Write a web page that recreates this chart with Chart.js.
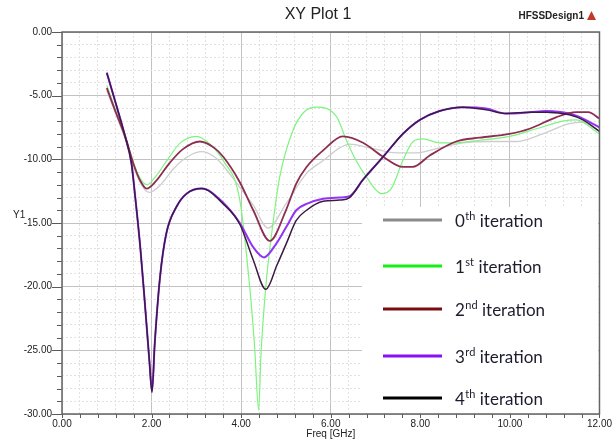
<!DOCTYPE html>
<html>
<head>
<meta charset="utf-8">
<script src="https://cdn.jsdelivr.net/npm/chart.js@4.4.1/dist/chart.umd.min.js"></script>
<style>
  html, body { margin: 0; padding: 0; background: #fff; }
  #wrap { width: 616px; height: 447px; }
</style>
</head>
<body>
<div id="wrap"><canvas id="xyPlot" width="616" height="447"></canvas></div>
<script>
// S11 (dB) vs frequency (GHz) for each design iteration
const freq0 = [1.0, 1.41, 1.7, 1.95, 2.2, 2.5, 2.8, 3.12, 3.4, 3.6, 3.97, 4.27, 4.6, 5.0, 5.46, 5.83, 6.2, 6.42, 6.87, 7.47, 7.91, 8.43, 8.95, 9.55, 10.14, 10.73, 11.33, 11.63, 12.0];
const iter0 = [-4.6, -8.4, -11.5, -12.6, -12.0, -10.7, -9.8, -9.4, -9.8, -10.5, -12.2, -13.6, -15.4, -13.5, -11.1, -10.1, -9.1, -8.8, -9.1, -9.5, -9.5, -9.1, -8.7, -8.6, -8.6, -8.0, -7.2, -7.1, -7.8];

const freq1 = [1.0, 1.41, 1.7, 1.9, 2.1, 2.4, 2.63, 3.0, 3.3, 3.6, 3.97, 4.19, 4.3, 4.39, 4.44, 4.55, 4.7, 4.86, 5.16, 5.4, 5.68, 6.13, 6.35, 6.55, 6.8, 7.13, 7.35, 7.61, 7.84, 8.06, 8.43, 8.8, 9.32, 9.99, 10.59, 11.18, 11.48, 12.0];
const iter1 = [-4.2, -8.2, -11.2, -12.0, -11.3, -9.8, -8.75, -8.2, -8.8, -10.1, -13.2, -20.0, -24.7, -29.7, -25.5, -20.0, -15.3, -11.4, -7.7, -6.3, -5.9, -6.65, -8.5, -10.0, -11.4, -12.7, -12.3, -10.1, -8.6, -8.4, -8.7, -8.7, -8.5, -8.2, -7.6, -7.0, -6.9, -8.0];

const freq2 = [1.0, 1.2, 1.41, 1.6, 1.75, 1.89, 2.1, 2.4, 2.7, 3.08, 3.4, 3.6, 3.97, 4.27, 4.64, 5.0, 5.23, 5.46, 5.83, 6.27, 6.72, 7.17, 7.61, 7.83, 8.21, 8.8, 9.32, 9.99, 10.44, 11.03, 11.48, 11.75, 12.0];
const iter2 = [-4.4, -6.3, -8.2, -10.4, -11.7, -12.3, -11.7, -10.3, -9.2, -8.6, -9.1, -9.8, -11.8, -14.0, -16.4, -14.0, -11.9, -10.6, -9.3, -8.2, -8.7, -9.8, -10.6, -10.6, -9.7, -8.6, -8.3, -8.0, -7.6, -6.7, -6.3, -6.3, -6.8];

const freq3 = [1.0, 1.2, 1.41, 1.55, 1.63, 1.75, 1.85, 1.95, 2.01, 2.07, 2.19, 2.33, 2.56, 2.78, 3.12, 3.6, 3.97, 4.27, 4.51, 4.75, 5.01, 5.23, 5.46, 5.83, 6.2, 6.42, 6.72, 7.17, 7.61, 7.99, 8.43, 8.95, 9.47, 9.92, 10.44, 10.81, 11.33, 11.63, 12.0];
const iter3 = [-3.2, -5.6, -8.2, -10.3, -12.8, -17.0, -21.3, -25.8, -28.2, -24.5, -19.2, -15.8, -13.7, -12.7, -12.3, -13.4, -15.0, -16.9, -17.7, -16.8, -15.3, -14.0, -13.5, -13.1, -13.0, -12.9, -11.6, -9.8, -8.0, -6.9, -6.2, -5.9, -6.0, -6.4, -6.3, -6.2, -6.4, -6.8, -7.5];

const freq4 = [1.0, 1.2, 1.41, 1.55, 1.63, 1.75, 1.85, 1.95, 2.01, 2.07, 2.19, 2.33, 2.56, 2.78, 3.12, 3.6, 3.97, 4.27, 4.55, 4.8, 5.01, 5.23, 5.46, 5.83, 6.2, 6.42, 6.72, 7.17, 7.61, 7.99, 8.43, 8.95, 9.47, 9.92, 10.44, 10.81, 11.33, 11.63, 12.0];
const iter4 = [-3.2, -5.6, -8.2, -10.3, -12.8, -17.0, -21.3, -25.8, -28.3, -24.5, -19.2, -15.8, -13.7, -12.7, -12.3, -13.5, -15.1, -17.9, -20.2, -18.3, -16.6, -14.8, -14.0, -13.3, -13.2, -13.0, -11.6, -9.8, -8.0, -6.9, -6.2, -5.9, -6.1, -6.4, -6.3, -6.3, -6.5, -6.9, -7.8];

// legend text: [base, superscript, rest]
const legendNames = [['0', 'th', ' iteration'], ['1', 'st', ' iteration'], ['2', 'nd', ' iteration'], ['3', 'rd', ' iteration'], ['4', 'th', ' iteration']];

const TICK_FONT = '"Liberation Sans Narrow", "Liberation Sans", Arial, sans-serif';

const series = [
    { f: freq0, v: iter0, line: '#cdcdcd', key: '#8a8a8a', w: 1.3, order: 4 },
    { f: freq1, v: iter1, line: '#7df47d', key: '#14f014', w: 1.2, order: 3 },
    { f: freq2, v: iter2, line: '#8e2d52', key: '#7a0c10', w: 1.8, order: 1 },
    { f: freq3, v: iter3, line: '#9333f5', key: '#8a10f5', w: 2.0, order: 2 },
    { f: freq4, v: iter4, line: '#3d1a45', key: '#000000', w: 1.5, order: 0 }
];

function isMajor(v, step) {
    return Math.abs(v / step - Math.round(v / step)) < 1e-6;
}

// titles, tick marks, frame and the pasted-in legend box
const hfssDecor = {
    id: 'hfssDecor',
    afterDraw(chart) {
        const ctx = chart.ctx;
        const area = chart.chartArea;
        const xs = chart.scales.x;
        const ys = chart.scales.y;
        ctx.save();

        // legend box
        ctx.fillStyle = '#ffffff';
        ctx.fillRect(362, 207, 236, 206);
        const rowY = [220, 266, 309, 356, 398];
        legendNames.forEach((parts, i) => {
            const y = rowY[i];
            ctx.strokeStyle = series[i].key;
            ctx.lineWidth = 3;
            ctx.beginPath();
            ctx.moveTo(383, y);
            ctx.lineTo(442, y);
            ctx.stroke();

            ctx.fillStyle = '#1c1c2c';
            ctx.textAlign = 'left';
            ctx.textBaseline = 'alphabetic';
            let x = 455;
            ctx.font = '17px Lato, "Open Sans", sans-serif';
            ctx.fillText(parts[0], x, y + 7);
            x += ctx.measureText(parts[0]).width;
            ctx.font = '11px Lato, "Open Sans", sans-serif';
            ctx.fillText(parts[1], x + 0.5, y);
            x += ctx.measureText(parts[1]).width + 0.5;
            ctx.font = '17px Lato, "Open Sans", sans-serif';
            ctx.fillText(parts[2], x, y + 7);
        });

        // tick marks
        ctx.strokeStyle = '#5a5a5a';
        ctx.lineWidth = 1;
        ys.ticks.forEach(t => {
            const py = Math.round(ys.getPixelForValue(t.value)) + 0.5;
            const len = isMajor(t.value, 5) ? 10 : 5;
            ctx.beginPath();
            ctx.moveTo(area.left - len, py);
            ctx.lineTo(area.left, py);
            ctx.stroke();
        });
        xs.ticks.forEach(t => {
            const px = Math.round(xs.getPixelForValue(t.value)) + 0.5;
            ctx.beginPath();
            ctx.moveTo(px, area.bottom);
            ctx.lineTo(px, area.bottom + 4);
            ctx.stroke();
        });

        // frame
        ctx.strokeStyle = '#656565';
        ctx.lineWidth = 1.5;
        ctx.strokeRect(area.left, area.top, area.right - area.left, area.bottom - area.top);

        // titles
        ctx.fillStyle = '#222222';
        ctx.textBaseline = 'middle';
        ctx.textAlign = 'center';
        ctx.font = '16px "Liberation Sans Narrow", "Liberation Sans", Arial, sans-serif';
        ctx.fillText('XY Plot 1', 318, 15);
        ctx.font = '10px ' + TICK_FONT;
        ctx.fillText('Freq [GHz]', (area.left + area.right) / 2, 434);
        ctx.textAlign = 'left';
        ctx.fillText('Y1', 13, 215);
        ctx.font = 'bold 10px ' + TICK_FONT;
        ctx.textAlign = 'right';
        ctx.fillText('HFSSDesign1', 584, 16);
        // little red logo
        ctx.fillStyle = '#c0392b';
        ctx.beginPath();
        ctx.moveTo(587, 20);
        ctx.lineTo(591.5, 11);
        ctx.lineTo(596, 20);
        ctx.closePath();
        ctx.fill();
        ctx.restore();
    }
};

new Chart(document.getElementById('xyPlot'), {
    type: 'line',
    data: {
        datasets: series.map((s, i) => ({
            label: legendNames[i].join(''),
            data: s.f.map((x, k) => ({ x, y: s.v[k] })),
            borderColor: s.line,
            borderWidth: s.w,
            pointRadius: 0,
            fill: false,
            cubicInterpolationMode: 'monotone',
            order: s.order
        }))
    },
    options: {
        responsive: false,
        animation: false,
        layout: { padding: { left: 0, right: 16, top: 32, bottom: 0 } },
        plugins: {
            legend: { display: false },
            title: { display: false },
            tooltip: { enabled: false }
        },
        scales: {
            x: {
                type: 'linear',
                min: 0,
                max: 12,
                ticks: {
                    stepSize: 0.4,
                    autoSkip: false,
                    maxRotation: 0,
                    padding: 4,
                    color: '#222',
                    font: { family: TICK_FONT, size: 10 },
                    callback: v => isMajor(v, 2) ? v.toFixed(2) : ''
                },
                grid: {
                    drawTicks: false,
                    lineWidth: 1,
                    color: c => (c.tick && isMajor(c.tick.value, 2)) ? '#c2c2c2' : '#e2e2e2'
                },
                border: {
                    display: false,
                    dash: c => (c.tick && !isMajor(c.tick.value, 2)) ? [2, 2] : []
                },
                afterFit: s => { s.height = 33; }
            },
            y: {
                min: -30,
                max: 0,
                ticks: {
                    stepSize: 1,
                    autoSkip: false,
                    padding: 10,
                    color: '#222',
                    font: { family: TICK_FONT, size: 10 },
                    callback: v => isMajor(v, 5) ? Math.abs(v).toFixed(2).replace(/^/, v < 0 ? '-' : '') : ''
                },
                grid: {
                    drawTicks: false,
                    lineWidth: 1,
                    color: c => (c.tick && isMajor(c.tick.value, 5)) ? '#c2c2c2' : '#e2e2e2'
                },
                border: {
                    display: false,
                    dash: c => (c.tick && !isMajor(c.tick.value, 5)) ? [2, 2] : []
                },
                afterFit: s => { s.width = 62; }
            }
        }
    },
    plugins: [hfssDecor]
});
</script>
</body>
</html>
